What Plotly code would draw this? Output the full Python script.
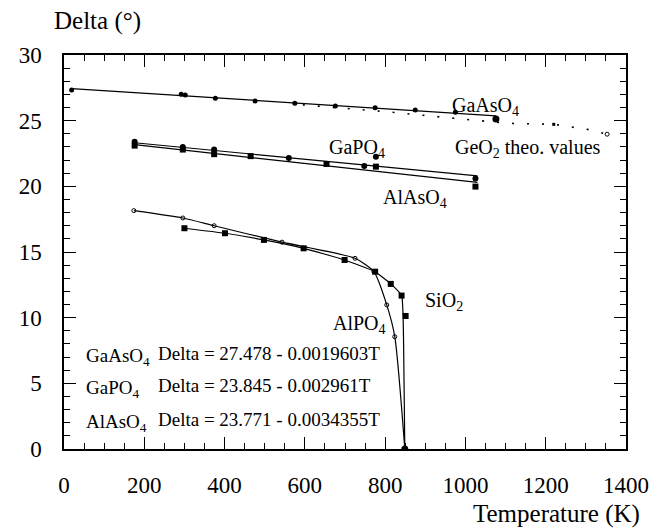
import plotly.graph_objects as go

# ---------------- data ----------------
# GaAsO4 (filled circles) + fitted line
gaas_T = [19, 292, 302, 377, 476, 575, 676, 775, 875, 975, 1076]
gaas_D = [27.34, 27.01, 26.96, 26.71, 26.50, 26.33, 26.12, 25.99, 25.82, 25.64, 25.13]
gaas_fit_T = [19, 1076]
gaas_fit_D = [27.44, 25.37]

# GeO2 theoretical values (dotted)
geo2_T = [595, 800, 1000, 1105, 1220, 1311, 1353]
geo2_D = [26.20, 25.69, 25.10, 24.80, 24.72, 24.30, 23.97]
geo2_mark_T = [1220]
geo2_mark_D = [24.72]
geo2_end_T = [1353]
geo2_end_D = [23.97]

# GaPO4 (filled circles) + fitted line
gapo_T = [176, 296, 374, 560, 748, 777, 1025]
gapo_D = [23.40, 23.00, 22.80, 22.15, 21.55, 22.26, 20.60]
gapo_fit_T = [176, 1030]
gapo_fit_D = [23.32, 20.79]

# AlAsO4 (filled squares) + fitted line
alas_T = [176, 296, 374, 465, 654, 777, 1025]
alas_D = [23.10, 22.80, 22.45, 22.30, 21.70, 21.50, 19.98]
alas_fit_T = [176, 1030]
alas_fit_D = [23.17, 20.30]

# AlPO4 (open circles), curve
alpo_T = [174, 296, 374, 543, 725, 772, 804, 824, 849]
alpo_D = [18.15, 17.59, 17.00, 15.75, 14.52, 13.50, 10.97, 8.55, 0.0]

# SiO2 (filled squares), curve
sio2_T = [300, 401, 498, 597, 699, 775, 814, 841, 851]
sio2_D = [16.81, 16.43, 15.92, 15.28, 14.39, 13.50, 12.57, 11.68, 10.13]
sio2_curve_T = [300, 401, 498, 597, 699, 775, 814, 841, 846, 849]
sio2_curve_D = [16.81, 16.43, 15.92, 15.28, 14.39, 13.50, 12.57, 11.68, 8.0, 0.0]

# transition point
trans_T = [849]
trans_D = [0.0]

equations = [
    ("GaAsO<sub>4</sub>", "Delta = 27.478 - 0.0019603T"),
    ("GaPO<sub>4</sub>", "Delta = 23.845 - 0.002961T"),
    ("AlAsO<sub>4</sub>", "Delta = 23.771 - 0.0034355T"),
]

FONT = "Liberation Serif"
LW = 1.2

fig = go.Figure()

def line(x, y, dash="solid", shape="linear", smoothing=None, width=LW):
    ln = dict(color="black", width=width, dash=dash, shape=shape)
    if smoothing is not None:
        ln["smoothing"] = smoothing
    fig.add_trace(go.Scatter(x=x, y=y, mode="lines", line=ln,
                             showlegend=False, hoverinfo="skip"))

def marks(x, y, symbol, size, color="black", lw=0):
    fig.add_trace(go.Scatter(x=x, y=y, mode="markers",
                             marker=dict(symbol=symbol, size=size, color=color,
                                         line=dict(color="black", width=lw)),
                             showlegend=False, hoverinfo="skip"))

# GeO2 dotted
line(geo2_T, geo2_D, dash="2px,13px", width=1.6)
marks(geo2_mark_T, geo2_mark_D, "square", 3)
marks(geo2_end_T, geo2_end_D, "circle-open", 4, lw=1)

# GaAsO4
line(gaas_fit_T, gaas_fit_D)
marks(gaas_T[:-1], gaas_D[:-1], "circle", 5)
marks(gaas_T[-1:], gaas_D[-1:], "circle", 7)

# GaPO4 / AlAsO4
line(gapo_fit_T, gapo_fit_D)
line(alas_fit_T, alas_fit_D)
marks(gapo_T, gapo_D, "circle", 6)
marks(alas_T, alas_D, "square", 6)

# AlPO4 / SiO2
line(alpo_T, alpo_D, shape="spline", smoothing=0.6)
line(sio2_curve_T, sio2_curve_D, shape="spline", smoothing=0.4)
marks(alpo_T[:-1], alpo_D[:-1], "circle-open", 4, lw=1)
marks(sio2_T, sio2_D, "square", 6)
marks(trans_T, trans_D, "circle", 7)

# ---------------- annotations ----------------
def ann(text, x, y, size=20, xanchor="left", yanchor="middle", xref="x", yref="y"):
    fig.add_annotation(text=text, x=x, y=y, xref=xref, yref=yref,
                       xanchor=xanchor, yanchor=yanchor, showarrow=False,
                       font=dict(family=FONT, size=size, color="black"))

ann("GaAsO<sub>4</sub>", 961, 26.1)
ann("GeO<sub>2</sub> theo. values", 969, 22.85)
ann("GaPO<sub>4</sub>", 654, 22.85)
ann("AlAsO<sub>4</sub>", 790, 19.05)
ann("SiO<sub>2</sub>", 894, 11.2)
ann("AlPO<sub>4</sub>", 664, 9.45)

eq_y = [7.0, 4.55, 1.95]
for (name, eq), yy in zip(equations, eq_y):
    ann(name, 50, yy, size=19)
    ann(eq, 230, yy + 0.3, size=19)

# axis titles
ann("Delta (°)", (52 - 64) / 565, (449 - 21) / 394, size=25,
    xref="paper", yref="paper")
ann("Temperature (K)", (645 - 64) / 565, (449 - 514) / 394, size=25,
    xanchor="right", xref="paper", yref="paper")

axis_common = dict(
    showline=True, linecolor="black", linewidth=1.5, mirror="allticks",
    ticks="inside", ticklen=12, tickwidth=1.2, tickcolor="black",
    showgrid=False, zeroline=False,
    tickfont=dict(family=FONT, size=23, color="black"),
)

fig.update_xaxes(range=[0, 1400], tickvals=[0, 200, 400, 600, 800, 1000, 1200, 1400],
                 minor=dict(dtick=50, ticks="inside", ticklen=6, tickwidth=1, tickcolor="black"),
                 ticklabelstandoff=15, **axis_common)
fig.update_yaxes(range=[0, 30], tickvals=[0, 5, 10, 15, 20, 25, 30],
                 minor=dict(dtick=1, ticks="inside", ticklen=6, tickwidth=1, tickcolor="black"),
                 ticklabelstandoff=16, **axis_common)

fig.update_layout(
    width=661, height=530,
    margin=dict(l=64, r=32, t=55, b=81),
    paper_bgcolor="white", plot_bgcolor="white",
    showlegend=False,
)

fig.write_html("out.html")
